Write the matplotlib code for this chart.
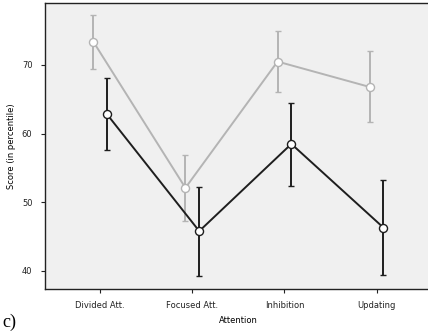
import numpy as np
import matplotlib.pyplot as plt

categories = ['Divided Att.', 'Focused Att.', 'Inhibition', 'Updating']

# grey group
grey_mean = [73.4, 52.1, 70.5, 66.8]
grey_low = [69.4, 47.3, 66.0, 61.7]
grey_high = [77.3, 56.9, 75.0, 72.0]

# black group
black_mean = [62.8, 45.8, 58.5, 46.3]
black_low = [57.6, 39.3, 52.4, 39.4]
black_high = [68.1, 52.2, 64.5, 53.2]

yticks = [40, 50, 60, 70]

fig = plt.figure(figsize=(4.28, 3.34), dpi=100)
ax = fig.add_axes([0.105, 0.135, 0.904, 0.856])
ax.set_facecolor('#f0f0f0')

x = np.arange(len(categories))
off = 0.075

def draw(xpos, mean, low, high, color):
    mean = np.array(mean)
    err = [mean - np.array(low), np.array(high) - mean]
    ax.errorbar(xpos, mean, yerr=err, color=color, lw=1.4, elinewidth=1.4,
                capsize=1.9, capthick=1.4, marker='o', ms=5.8,
                mfc='white', mec=color, mew=1.0, zorder=3)

draw(x - off, grey_mean, grey_low, grey_high, '#b4b4b4')
draw(x + off, black_mean, black_low, black_high, '#1e1e1e')

ax.set_xlim(-0.6, 3.6)
ax.set_ylim(37.38, 79.03)
ax.set_xticks(x)
ax.set_xticklabels(categories)
ax.set_yticks(yticks)
ax.tick_params(labelsize=6, length=3, width=0.8, colors='#222222', pad=6)
ax.tick_params(axis='x', pad=6)

for s in ['left', 'top', 'bottom']:
    ax.spines[s].set_color('#222222')
    ax.spines[s].set_linewidth(1.0)
ax.spines['right'].set_visible(False)

ax.set_xlabel('Attention', fontsize=6, labelpad=4)
ax.set_ylabel('Score (in percentile)', fontsize=6, labelpad=4)

fig.text(0.005, 0.02, 'c)', family='Liberation Serif', fontsize=13)

fig.savefig('out.png', dpi=100)
